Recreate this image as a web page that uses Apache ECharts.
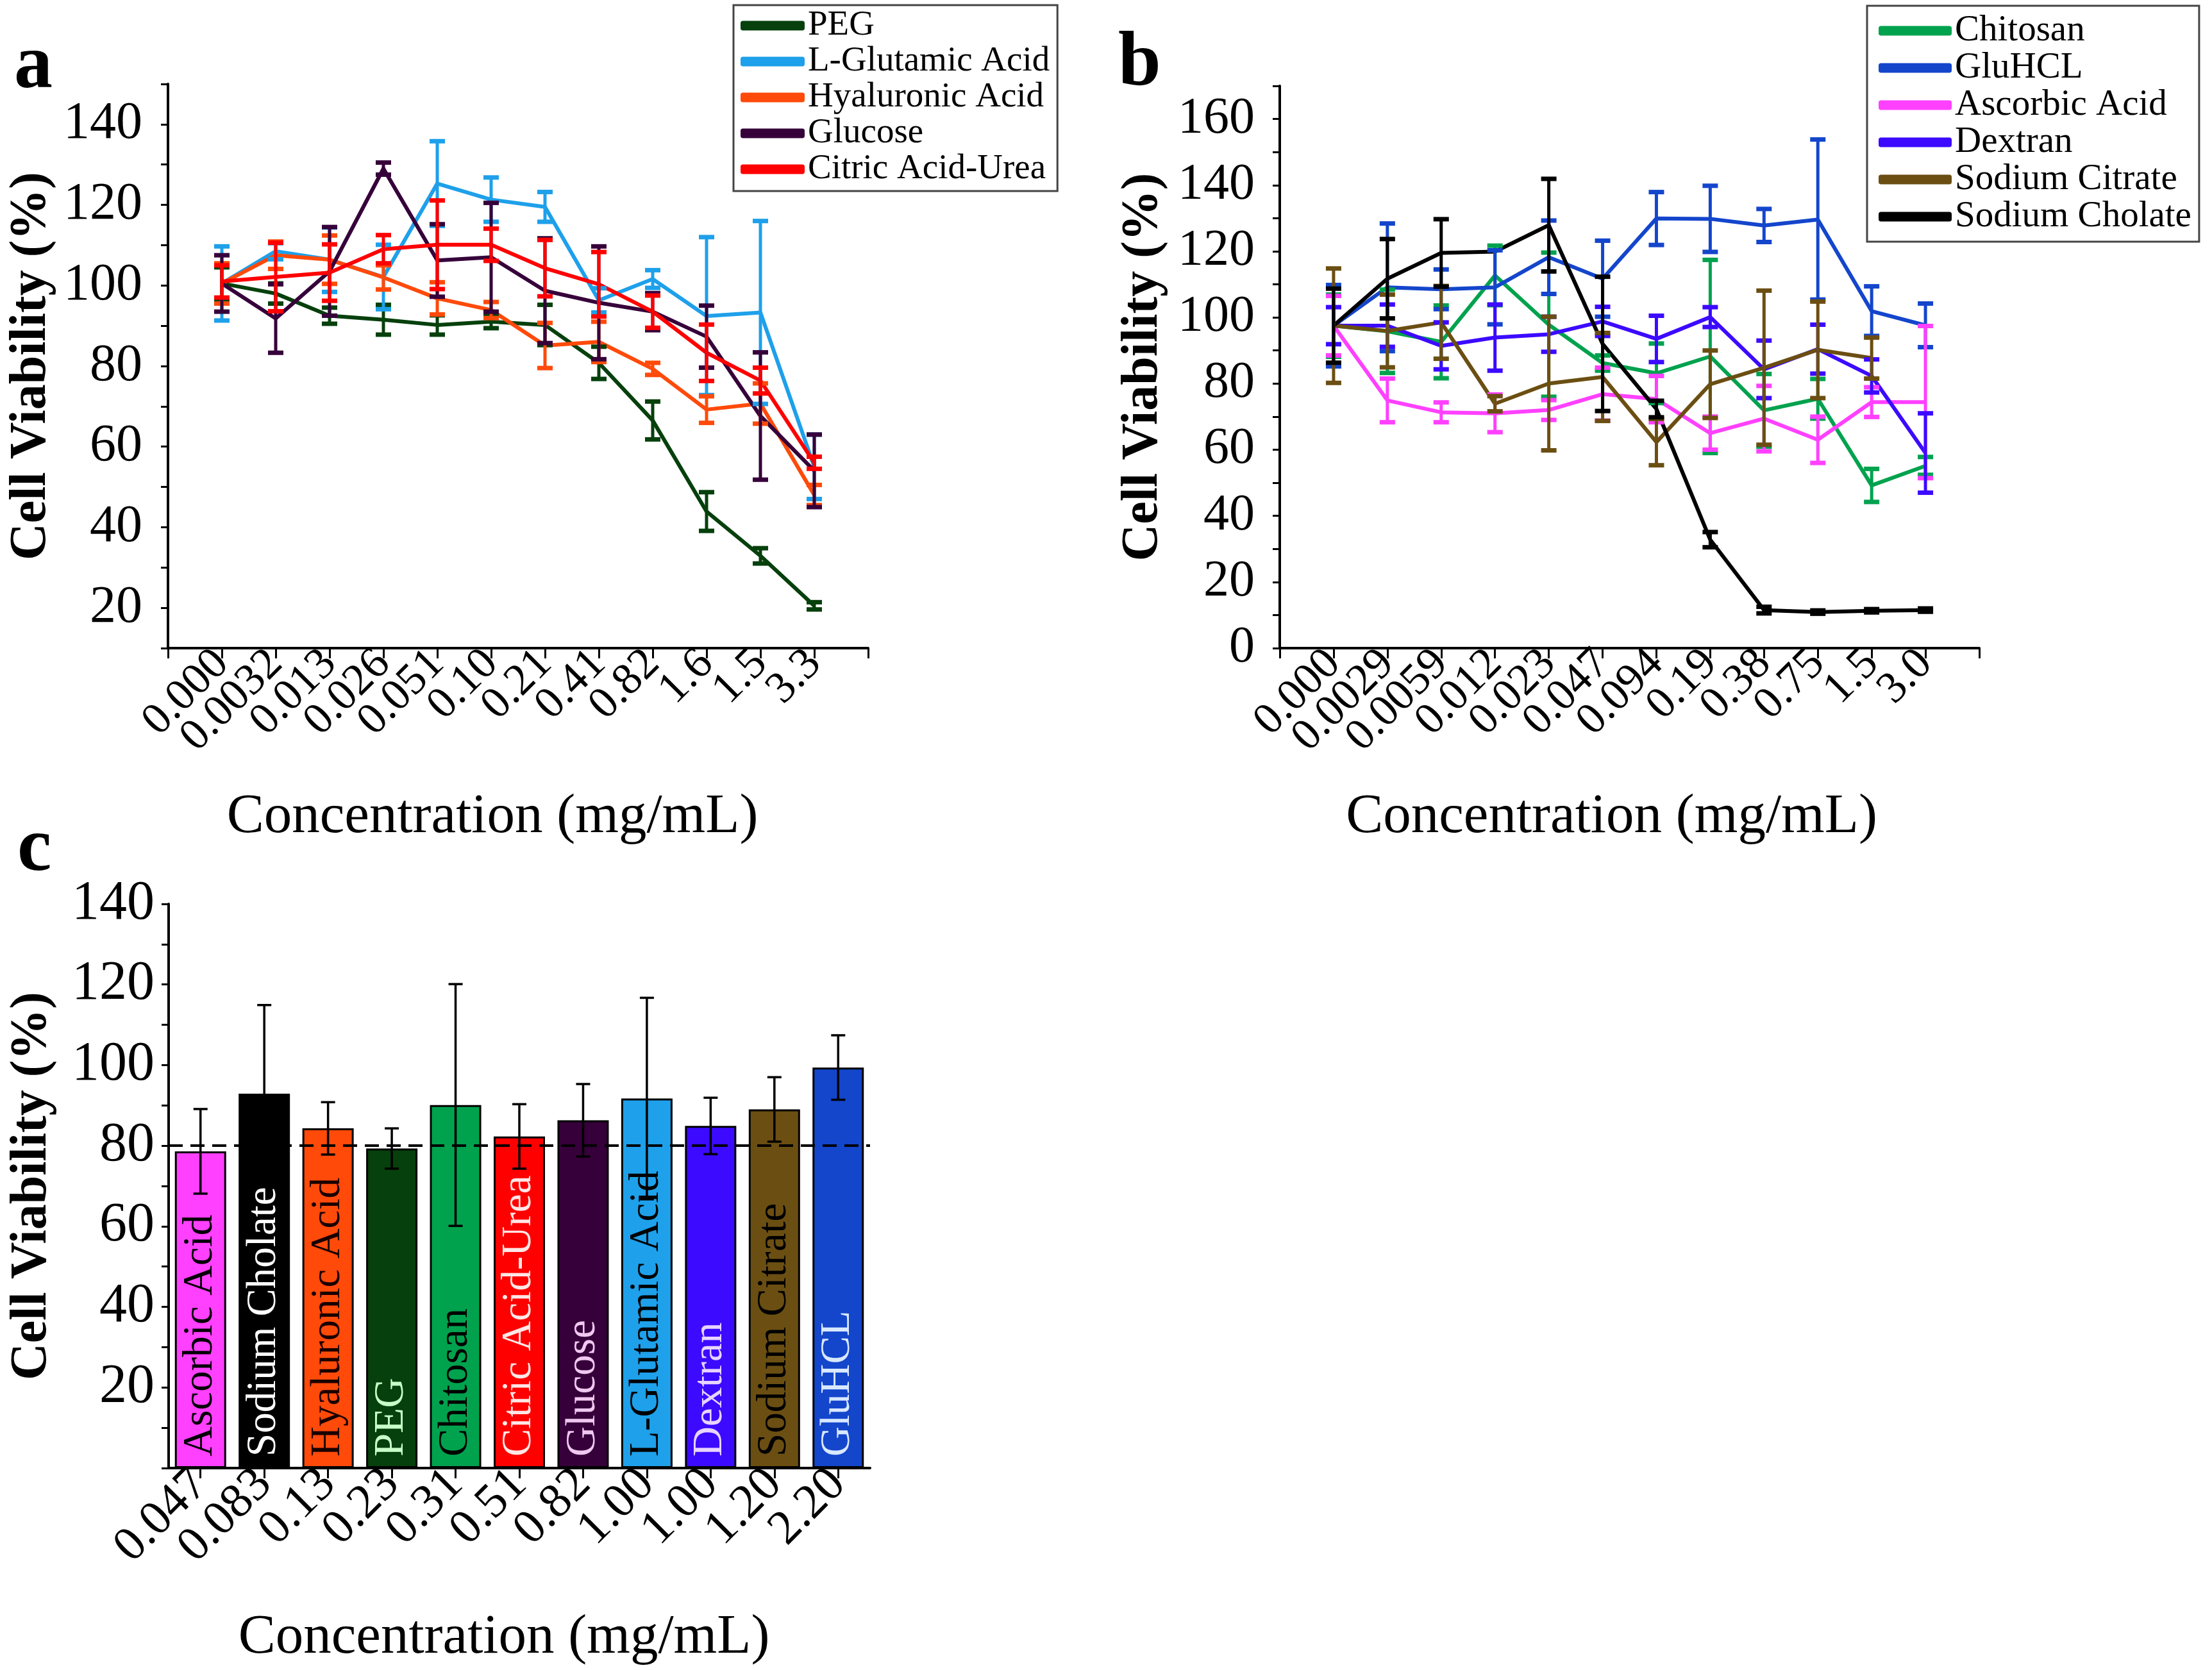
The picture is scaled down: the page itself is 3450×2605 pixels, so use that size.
<!DOCTYPE html>
<html>
<head>
<meta charset="utf-8">
<script src="https://cdn.jsdelivr.net/npm/echarts@6/dist/echarts.min.js"></script>
<style>
  html, body { margin: 0; padding: 0; background: #fff; }
  #chart { width: 3450px; height: 2605px; }
</style>
</head>
<body>
<div id="chart"></div>
<script>
// panel a - concentration labels and viability (mean, +/- error)
const aLabels = ['0.000', '0.0032', '0.013', '0.026', '0.051', '0.10', '0.21', '0.41', '0.82', '1.6', '1.5', '3.3'];
const pegMean = [100.5, 98, 92.5, 91.5, 90.2, 91, 90.2, 80.8, 66.5, 43.9, 32.9, 20.5];
const pegErr = [4, 2.5, 2, 3.7, 2.4, 1.6, 5, 4, 4.7, 4.8, 1.9, 0.9];
const lgluMean = [100.5, 108.5, 106.4, 102.1, 125.3, 121.3, 119.5, 96.3, 101.6, 92.4, 93.3, 55];
const lgluErr = [9.2, 2, 8, 8, 10.5, 5.5, 3.7, 3, 2.2, 19.6, 22.7, 8];
const hyaMean = [100.5, 107.5, 106.4, 102, 96.8, 93.9, 85.1, 86, 79.3, 69.2, 70.7, 48];
const hyaErr = [5, 3.4, 6, 3, 4, 2, 5.6, 5, 1.5, 3.3, 5, 2.5];
const glucMean = [100.5, 91.8, 103.5, 129, 106.2, 107, 98.7, 95.7, 93.5, 87.3, 67.6, 54];
const glucErr = [7, 8.5, 11, 1.5, 9, 13.5, 13, 14, 4.6, 7.7, 15.8, 9];
const citMean = [101, 102.1, 103.2, 109, 110.1, 110.1, 104.3, 100.3, 93.5, 83.3, 76.4, 56];
const citErr = [4, 8.5, 7, 3.5, 11, 4, 7, 8, 4, 7, 3.2, 1.5];

// panel b
const bLabels = ['0.000', '0.0029', '0.0059', '0.012', '0.023', '0.047', '0.094', '0.19', '0.38', '0.75', '1.5', '3.0'];
const chiMean = [97.5, 95.8, 92.6, 112.7, 97.8, 86.2, 83.1, 88.2, 71.9, 75.4, 49.2, 55.1];
const chiErr = [9.4, 12.6, 11, 9, 21.8, 2.3, 9, 29.2, 11, 6, 5, 2.7];
const gluhMean = [97.5, 109.1, 108.5, 109.1, 118.2, 111.7, 129.9, 129.8, 127.8, 129.6, 101.9, 97.6];
const gluhErr = [12.3, 19.3, 6, 11.2, 11.1, 11.5, 8, 10, 5, 24.2, 7.5, 6.6];
const ascMean = [97.5, 74.9, 71.3, 71, 72, 76.8, 75.3, 65, 69.4, 63, 74.4, 74.4];
const ascErr = [9, 6.6, 3, 5.7, 3, 8, 7, 5, 9.9, 7, 4.5, 23];
const dexMean = [97.5, 97.5, 91.4, 93.9, 94.9, 98.8, 93.5, 100.1, 84.3, 90.4, 82.3, 59];
const dexErr = [5.6, 6.4, 7.1, 10, 5.3, 4.4, 7, 3, 8.7, 7.4, 5, 12];
const citrMean = [97.5, 95.9, 98.5, 73.9, 80, 82, 62.3, 79.8, 84.8, 90.2, 87.7];
const citrErr = [17.3, 11, 11, 2.3, 20.2, 13.3, 7, 10.2, 23.3, 14.6, 6.2];
const cholMean = [97.5, 111.7, 119.5, 119.9, 127.9, 92, 72.3, 32.8, 11.5, 10.9, 11.3, 11.5];
const cholErr = [11.2, 12, 10.2, 0, 14, 20.3, 2.5, 2.3, 1, 0.5, 0.5, 0.5];

// panel c
const cNames = ['Ascorbic Acid', 'Sodium Cholate', 'Hyaluronic Acid', 'PEG', 'Chitosan', 'Citric Acid-Urea',
  'Glucose', 'L-Glutamic Acid', 'Dextran', 'Sodium Citrate', 'GluHCL'];
const cLabels = ['0.047', '0.083', '0.13', '0.23', '0.31', '0.51', '0.82', '1.00', '1.00', '1.20', '2.20'];
const cMean = [78.6, 92.9, 84.3, 79.3, 90.1, 82.3, 86.3, 91.7, 84.9, 89, 99.4];
const cErr = [10.5, 22, 6.5, 5, 30, 8, 9, 25, 7, 8, 8];

const FONT = '"Liberation Serif", "Times New Roman", serif';

const colors = {
  'PEG': '#06400c',
  'L-Glutamic Acid': '#1ea0ea',
  'Hyaluronic Acid': '#ff4a0a',
  'Glucose': '#36003a',
  'Citric Acid-Urea': '#ff0000',
  'Chitosan': '#00a24e',
  'GluHCL': '#1446cc',
  'Ascorbic Acid': '#ff40ff',
  'Dextran': '#3c0aff',
  'Sodium Citrate': '#6b4e12',
  'Sodium Cholate': '#000000'
};
const cTextColors = ['#000', '#fff', '#1a0000', '#c8ffc8', '#000', '#ffe6e6', '#f0c8f0', '#000', '#e8d4ff', '#000', '#d8e8ff'];

const aSet = [['PEG', pegMean, pegErr], ['L-Glutamic Acid', lgluMean, lgluErr], ['Hyaluronic Acid', hyaMean, hyaErr],
  ['Glucose', glucMean, glucErr], ['Citric Acid-Urea', citMean, citErr]];
const bSet = [['Chitosan', chiMean, chiErr], ['GluHCL', gluhMean, gluhErr], ['Ascorbic Acid', ascMean, ascErr],
  ['Dextran', dexMean, dexErr], ['Sodium Citrate', citrMean, citrErr], ['Sodium Cholate', cholMean, cholErr]];

function errBar(capHalf, lw, capLw) {
  return function (params, api) {
    const x = api.value(0), lo = api.value(1), hi = api.value(2);
    if (hi - lo < 0.01) return null;
    const p1 = api.coord([x, hi]);
    const p2 = api.coord([x, lo]);
    const color = api.visual('color');
    return {
      type: 'group',
      children: [
        { type: 'line', shape: { x1: p1[0], y1: p1[1], x2: p2[0], y2: p2[1] }, style: { stroke: color, lineWidth: lw } },
        { type: 'line', shape: { x1: p1[0] - capHalf, y1: p1[1], x2: p1[0] + capHalf, y2: p1[1] }, style: { stroke: color, lineWidth: capLw } },
        { type: 'line', shape: { x1: p2[0] - capHalf, y1: p2[1], x2: p2[0] + capHalf, y2: p2[1] }, style: { stroke: color, lineWidth: capLw } }
      ]
    };
  };
}

const lines = [];
const errs = [];
[[aSet, 0], [bSet, 1]].forEach(([set, ax]) => {
  set.forEach(([name, mean, err]) => {
    const color = colors[name];
    lines.push({
      name, type: 'line', xAxisIndex: ax, yAxisIndex: ax,
      data: mean.map((v, i) => [i + 1, v]),
      symbol: 'none',
      lineStyle: { width: 6, color, join: 'round' },
      itemStyle: { color },
      z: 2
    });
    errs.push({
      name: name + ' err', type: 'custom', xAxisIndex: ax, yAxisIndex: ax,
      data: mean.map((v, i) => [i + 1, v - err[i], v + err[i]]),
      encode: { x: 0, y: [1, 2] },
      renderItem: errBar(12, 5, 7),
      itemStyle: { color },
      z: 3
    });
  });
});

const barSeries = {
  name: 'bars', type: 'bar', xAxisIndex: 2, yAxisIndex: 2,
  barWidth: 80,
  data: cMean.map((v, i) => ({
    value: v,
    itemStyle: { color: colors[cNames[i]] },
    label: { color: cTextColors[i] }
  })),
  itemStyle: { borderColor: '#000', borderWidth: 3 },
  label: {
    show: true, position: 'insideBottom', rotate: 90, align: 'left', verticalAlign: 'middle',
    distance: 18, formatter: p => cNames[p.dataIndex], fontFamily: FONT, fontSize: 65
  },
  markLine: {
    silent: true, symbol: ['none', 'none'], label: { show: false },
    lineStyle: { color: '#000', type: [22, 12], width: 4 },
    data: [{ yAxis: 80 }]
  },
  z: 2
};
const barErr = {
  name: 'bars err', type: 'custom', xAxisIndex: 2, yAxisIndex: 2,
  data: cMean.map((v, i) => [i, v - cErr[i], v + cErr[i]]),
  encode: { x: 0, y: [1, 2] },
  renderItem: errBar(11, 3.5, 3.5),
  itemStyle: { color: '#000' },
  z: 4
};

const axisLineStyle = { color: '#000', width: 4 };
const tickStyle = { color: '#000', width: 3 };

function xValueAxis(grid, labels, fs, nameShift) {
  return {
    type: 'value', gridIndex: grid, min: 0, max: 13, interval: 1,
    axisLine: { show: true, lineStyle: axisLineStyle },
    axisTick: { show: true, length: 16, lineStyle: tickStyle },
    splitLine: { show: false },
    axisLabel: {
      formatter: v => labels[v - 1] || '', rotate: 45, margin: 14,
      fontFamily: FONT, fontSize: fs, color: '#000'
    },
    name: 'Concentration (mg/mL)', nameLocation: 'middle', nameGap: 264,
    nameTextStyle: { fontFamily: FONT, fontSize: 87, color: '#000', verticalAlign: 'middle', padding: [0, nameShift, 0, 0] }
  };
}

function yAxis(grid, min, max, fs, margin, showZero) {
  return {
    type: 'value', gridIndex: grid, min, max, interval: 10,
    axisLine: { show: true, lineStyle: axisLineStyle },
    axisTick: { show: true, length: 11, lineStyle: tickStyle },
    splitLine: { show: false },
    axisLabel: {
      formatter: v => (v % 20 === 0 && (v !== 0 || showZero)) ? String(v) : '',
      fontFamily: FONT, fontSize: fs, color: '#000', margin
    },
    name: 'Cell Viability (%)', nameLocation: 'middle', nameGap: 213,
    nameTextStyle: { fontFamily: FONT, fontSize: 80, fontWeight: 'bold', color: '#000', verticalAlign: 'middle' }
  };
}

function legendFor(set, left, top, padding, iw, fs) {
  return {
    data: set.map(s => s[0]), orient: 'vertical', left, top, padding,
    itemGap: 0, itemWidth: iw, itemHeight: 15, icon: 'roundRect',
    borderColor: '#444', borderWidth: 3, selectedMode: false,
    textStyle: { fontFamily: FONT, fontSize: fs, lineHeight: fs + 1, color: '#000' }
  };
}

const option = {
  animation: false,
  backgroundColor: '#fff',
  grid: [
    { left: 262, top: 131, width: 1092, height: 880 },
    { left: 1996, top: 134, width: 1091, height: 877 },
    { left: 263, top: 1410, width: 1094, height: 880 }
  ],
  xAxis: [
    xValueAxis(0, aLabels, 70, 80),
    xValueAxis(1, bLabels, 70, 56),
    {
      type: 'category', gridIndex: 2, data: cNames,
      axisLine: { show: true, lineStyle: axisLineStyle },
      axisTick: { show: true, alignWithLabel: true, length: 16, lineStyle: tickStyle },
      axisLabel: {
        interval: 0, formatter: (v, i) => cLabels[i], rotate: 45, margin: 14,
        fontFamily: FONT, fontSize: 76, color: '#000'
      },
      name: 'Concentration (mg/mL)', nameLocation: 'middle', nameGap: 265,
      nameTextStyle: { fontFamily: FONT, fontSize: 87, color: '#000', verticalAlign: 'middle', padding: [0, 48, 0, 0] }
    }
  ],
  yAxis: [
    yAxis(0, 10, 150, 82, 40, false),
    yAxis(1, 0, 170, 80, 39, true),
    yAxis(2, 0, 140, 86, 22, false)
  ],
  legend: [
    legendFor(aSet, 1144, 8, [4, 12, 6, 11], 100, 55),
    legendFor(bSet, 2912, 9, [10, 12, 10, 18], 114, 57)
  ],
  graphic: [
    { type: 'text', left: 22, top: 45, style: { text: 'a', font: 'bold 120px "Liberation Serif"', fill: '#000' } },
    { type: 'text', left: 1744, top: 41, style: { text: 'b', font: 'bold 120px "Liberation Serif"', fill: '#000' } },
    { type: 'text', left: 27, top: 1266, style: { text: 'c', font: 'bold 120px "Liberation Serif"', fill: '#000' } }
  ],
  series: [...lines, ...errs, barSeries, barErr]
};

const chart = echarts.init(document.getElementById('chart'));
chart.setOption(option);
window.addEventListener('resize', () => chart.resize());
</script>
</body>
</html>
